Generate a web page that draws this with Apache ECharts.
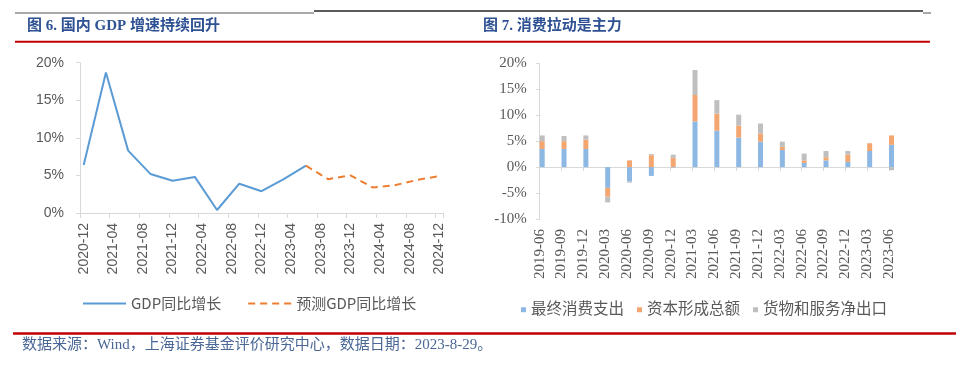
<!DOCTYPE html>
<html>
<head>
<meta charset="utf-8">
<script src="https://cdn.jsdelivr.net/npm/echarts@6/dist/echarts.min.js"></script>
<style>
html,body{margin:0;padding:0;background:#fff;}
#chart{width:956px;height:367px;}
</style>
</head>
<body>
<div id="chart"></div>
<script>
// ---------- Left chart data (GDP YoY, %) ----------
const monthAxisStart = '2020-12';
const monthAxisEnd = '2024-12';
const gdpDates = ['2020-12','2021-03','2021-06','2021-09','2021-12','2022-03','2022-06','2022-09','2022-12','2023-03','2023-06'];
const gdpValues = [6.4, 18.7, 8.3, 5.2, 4.3, 4.8, 0.4, 3.9, 2.9, 4.5, 6.3];
const forecastDates = ['2023-06','2023-09','2023-12','2024-03','2024-06','2024-09','2024-12'];
const forecastValues = [6.3, 4.5, 5.0, 3.4, 3.7, 4.4, 4.9];
const leftSeriesNames = ['GDP同比增长', '预测GDP同比增长'];

// ---------- Right chart data (contribution to GDP, pct points) ----------
const quarters = ['2019-06','2019-09','2019-12','2020-03','2020-06','2020-09','2020-12','2021-03','2021-06','2021-09','2021-12','2022-03','2022-06','2022-09','2022-12','2023-03','2023-06'];
const consumption = [3.5, 3.5, 3.5, -4.0, -2.8, -1.7, -0.1, 8.8, 7.0, 5.7, 4.9, 3.3, 0.8, 1.3, 1.0, 3.1, 4.3];
const capital =     [1.5, 1.5, 1.8, -1.7, 1.3, 2.3, 1.8, 5.1, 3.3, 2.3, 1.6, 0.6, 0.5, 0.6, 1.4, 1.5, 1.8];
const netExports =  [1.1, 1.0, 0.8, -1.1, -0.2, 0.2, 0.6, 4.8, 2.6, 2.1, 1.9, 1.0, 1.3, 1.2, 0.7, 0.0, -0.6];
const rightSeriesNames = ['最终消费支出', '资本形成总额', '货物和服务净出口'];

// ---------- Texts ----------
const leftTitle = '图 6. 国内 GDP 增速持续回升';
const rightTitle = '图 7. 消费拉动是主力';
const sourceText = '数据来源：Wind，上海证券基金评价研究中心，数据日期：2023-8-29。';

// Build monthly category axis for the left chart
function buildMonths(start, end) {
  const out = [];
  let [y, m] = start.split('-').map(Number);
  const [ey, em] = end.split('-').map(Number);
  while (y < ey || (y === ey && m <= em)) {
    out.push(y + '-' + String(m).padStart(2, '0'));
    m++; if (m > 12) { m = 1; y++; }
  }
  return out;
}
const monthCategories = buildMonths(monthAxisStart, monthAxisEnd);
const pair = (dates, vals) => dates.map((d, i) => [d, vals[i]]);

const serifMix = '"Liberation Serif", "Noto Sans CJK SC", serif';
const axisGray = '#d9d9d9';
const labelGray = '#595959';

const chart = echarts.init(document.getElementById('chart'), null, {renderer: 'canvas'});
const option = {
  animation: false,
  backgroundColor: '#ffffff',
  grid: [
    {left: 80, right: 513, top: 62.7, bottom: 154},
    {left: 539.7, right: 67, top: 63.3, bottom: 148}
  ],
  xAxis: [
    {
      gridIndex: 0, type: 'category', data: monthCategories, boundaryGap: true,
      axisLine: {lineStyle: {color: axisGray, width: 1}},
      axisTick: {show: true, interval: 3, length: 5, lineStyle: {color: axisGray}},
      axisLabel: {interval: 3, rotate: 90, margin: 10, color: labelGray, fontSize: 14, fontFamily: '"Liberation Sans", sans-serif'},
      splitLine: {show: false}
    },
    {
      gridIndex: 1, type: 'category', data: quarters, boundaryGap: false,
      axisLine: {onZero: true, lineStyle: {color: axisGray, width: 1}},
      axisTick: {show: true, interval: 0, length: 4, lineStyle: {color: axisGray}},
      axisLabel: {show: false},
      splitLine: {show: false}
    },
    {
      gridIndex: 1, type: 'category', data: quarters, boundaryGap: false, position: 'bottom',
      axisLine: {show: false, onZero: false},
      axisTick: {show: false},
      axisLabel: {interval: 0, rotate: 90, margin: 10, color: labelGray, fontSize: 15, fontFamily: '"Liberation Serif", serif'},
      splitLine: {show: false}
    }
  ],
  yAxis: [
    {
      gridIndex: 0, type: 'value', min: 0, max: 20, interval: 5,
      axisLine: {show: true, lineStyle: {color: axisGray}},
      axisTick: {show: true, length: 4, lineStyle: {color: axisGray}},
      axisLabel: {formatter: '{value}%', margin: 16, color: labelGray, fontSize: 14, fontFamily: '"Liberation Sans", sans-serif'},
      splitLine: {show: false}
    },
    {
      gridIndex: 1, type: 'value', min: -10, max: 20, interval: 5,
      axisLine: {show: true, lineStyle: {color: axisGray}},
      axisTick: {show: true, length: 4, lineStyle: {color: axisGray}},
      axisLabel: {formatter: '{value}%', margin: 13, color: labelGray, fontSize: 15, fontFamily: '"Liberation Serif", serif'},
      splitLine: {show: false}
    }
  ],
  legend: [
    {
      data: leftSeriesNames, left: 77, top: 291, itemWidth: 43, itemHeight: 14, itemGap: 26,
      itemStyle: {opacity: 0},
      textStyle: {color: labelGray, fontSize: 15, fontFamily: '"Noto Sans CJK SC", sans-serif'}
    },
    {
      data: rightSeriesNames, left: 516, top: 297, icon: 'rect', itemWidth: 5, itemHeight: 5, itemGap: 13,
      textStyle: {color: labelGray, fontSize: 15.5, fontFamily: serifMix}
    }
  ],
  series: [
    {
      name: leftSeriesNames[0], type: 'line', xAxisIndex: 0, yAxisIndex: 0,
      data: pair(gdpDates, gdpValues), symbol: 'none', smooth: false,
      lineStyle: {color: '#5b9bd5', width: 2}, itemStyle: {color: '#5b9bd5'}
    },
    {
      name: leftSeriesNames[1], type: 'line', xAxisIndex: 0, yAxisIndex: 0,
      data: pair(forecastDates, forecastValues), symbol: 'none', smooth: false,
      lineStyle: {color: '#ed7d31', width: 2, type: [7, 5]}, itemStyle: {color: '#ed7d31'}
    },
    {
      name: 'pad', type: 'bar', xAxisIndex: 1, yAxisIndex: 1, stack: 'pad', data: [],
      barWidth: 5, barGap: '0%', itemStyle: {color: 'rgba(0,0,0,0)'}, clip: false
    },
    {
      name: rightSeriesNames[0], type: 'bar', xAxisIndex: 1, yAxisIndex: 1, stack: 'gdp',
      data: consumption, barWidth: 5, barGap: '0%', clip: false, itemStyle: {color: '#8db8e4'}
    },
    {
      name: rightSeriesNames[1], type: 'bar', xAxisIndex: 1, yAxisIndex: 1, stack: 'gdp',
      data: capital, barWidth: 5, barGap: '0%', clip: false, itemStyle: {color: '#f4a670'}
    },
    {
      name: rightSeriesNames[2], type: 'bar', xAxisIndex: 1, yAxisIndex: 1, stack: 'gdp',
      data: netExports, barWidth: 5, barGap: '0%', clip: false, itemStyle: {color: '#bfbfbf'}
    }
  ],
  graphic: [
    {type: 'line', shape: {x1: 15, y1: 13, x2: 314, y2: 13}, style: {stroke: '#8c8c8c', lineWidth: 1.5}},
    {type: 'line', shape: {x1: 314, y1: 11, x2: 923, y2: 11}, style: {stroke: '#262626', lineWidth: 1.5}},
    {type: 'line', shape: {x1: 923, y1: 13, x2: 931, y2: 13}, style: {stroke: '#8c8c8c', lineWidth: 1.5}},
    {type: 'line', shape: {x1: 15, y1: 41.7, x2: 930, y2: 41.7}, style: {stroke: '#c00000', lineWidth: 2}},
    {type: 'line', shape: {x1: 13, y1: 333.5, x2: 956, y2: 333.5}, style: {stroke: '#c00000', lineWidth: 2.5}},
    {type: 'text', x: 27, y: 26, style: {text: leftTitle, fill: '#2e5193', font: 'bold 15px ' + serifMix, verticalAlign: 'middle'}},
    {type: 'text', x: 483, y: 26, style: {text: rightTitle, fill: '#2e5193', font: 'bold 15px ' + serifMix, verticalAlign: 'middle'}},
    {type: 'text', x: 22, y: 345.5, style: {text: sourceText, fill: '#4a6796', font: '15px ' + serifMix, verticalAlign: 'middle'}}
  ]
};
chart.setOption(option);
</script>
</body>
</html>
